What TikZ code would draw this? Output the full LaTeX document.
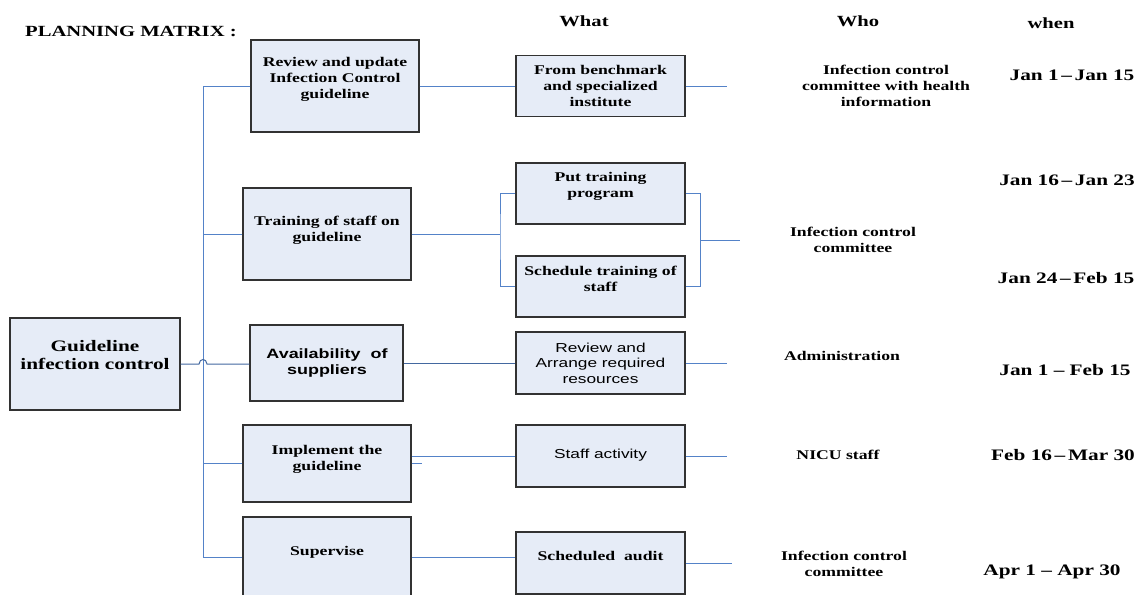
\documentclass[tikz,border=0pt]{standalone}
\usepackage{fontspec}
\setmainfont{Liberation Serif}[FakeStretch=1.33]
\setsansfont{Liberation Sans}[FakeStretch=1.33]
\begin{document}
\begin{tikzpicture}[x=1pt,y=-1pt,
  box/.style={draw=boxline,line width=1.2pt,fill=boxfill,inner sep=0pt},
  serif/.style={font=\fontsize{13.3}{16}\selectfont\bfseries,align=center,inner sep=0pt},
  sans/.style={font=\sffamily\fontsize{13}{15.5}\selectfont,align=center,inner sep=0pt},
  sansb/.style={font=\sffamily\fontsize{13.5}{15.5}\selectfont\bfseries,align=center,inner sep=0pt},
  head/.style={font=\fontsize{15.5}{18}\selectfont\bfseries,inner sep=0pt},
  date/.style={font=\fontsize{16}{18}\selectfont\bfseries,inner sep=0pt},
  link/.style={draw=linkblue,line width=1pt}]
\definecolor{boxfill}{RGB}{230,236,247}
\definecolor{boxline}{RGB}{50,50,50}
\definecolor{linkblue}{RGB}{84,130,200}
\clip (0,0) rectangle (1139,594);
\fill[white] (0,0) rectangle (1139,594);

% headings
\node[head,anchor=west] (title) at (25,31) {PLANNING MATRIX :};
\node[head] (hwhat) at (584,21) {What};
\node[head] (hwho) at (858,21) {Who};
\node[head] (hwhen) at (1051,23) {when};

% root box
\node[box,minimum width=170,minimum height=92] (g) at (95,364) {};
\node[serif,font=\fontsize{16}{18}\selectfont\bfseries] (gt) at (95,355) {Guideline\\infection control};

% second column
\node[box,minimum width=168,minimum height=92] (r1) at (335,86) {};
\node[serif] (r1t) at (335,79) {Review and update\\Infection Control\\guideline};
\node[box,minimum width=168,minimum height=92] (r2) at (327,234) {};
\node[serif] (r2t) at (327,230) {Training of staff on\\guideline};
\node[box,minimum width=153,minimum height=76] (r3) at (326.5,363) {};
\node[sansb] (r3t) at (327,363) {Availability\ \ of\\suppliers};
\node[box,minimum width=168,minimum height=77] (r4) at (327,463.5) {};
\node[serif] (r4t) at (327,459) {Implement the\\guideline};
\node[box,minimum width=168,minimum height=82] (r5) at (327,558) {};
\node[serif] (r5t) at (327,552) {Supervise};

% third column
\node[box,minimum width=169,minimum height=61] (w1) at (600.5,86) {};
\node[serif] (w1t) at (600.5,86) {From benchmark\\and specialized\\institute};
\node[box,minimum width=169,minimum height=61] (w2a) at (600.5,193.5) {};
\node[serif] (w2at) at (600.5,186) {Put training\\program};
\node[box,minimum width=169,minimum height=61] (w2b) at (600.5,286.5) {};
\node[serif] (w2bt) at (600.5,279) {Schedule training of\\staff};
\node[box,minimum width=169,minimum height=62] (w3) at (600.5,363) {};
\node[sans] (w3t) at (600.5,363) {Review and\\Arrange required\\resources};
\node[box,minimum width=169,minimum height=62] (w4) at (600.5,456) {};
\node[sans] (w4t) at (600.5,455) {Staff activity};
\node[box,minimum width=169,minimum height=62] (w5) at (600.5,563) {};
\node[serif] (w5t) at (600.5,556) {Scheduled\ \ audit};

% who
\node[serif] (who1) at (886,86) {Infection control\\committee with health\\information};
\node[serif] (who2) at (853,240) {Infection control\\committee};
\node[serif] (who3) at (842,356) {Administration};
\node[serif] (who4) at (838,455) {NICU staff};
\node[serif] (who5) at (844,564) {Infection control\\committee};

% when
\node[date] (d1) at (1072,75) {Jan 1\,--\,Jan 15};
\node[date] (d2) at (1067,180) {Jan 16\,--\,Jan 23};
\node[date] (d3) at (1066,278) {Jan 24\,--\,Feb 15};
\node[date] (d4) at (1065,370) {Jan 1 -- Feb 15};
\node[date] (d5) at (1063,455) {Feb 16\,--\,Mar 30};
\node[date] (d6) at (1052,572) {Apr 1 -- Apr 30};

% trunk and branches
\coordinate (ttop) at (203,86);
\coordinate (tbot) at (203,557);
\draw[link] (r1.west) -- (ttop) -- (tbot) -- (r5.west |- tbot);
\draw[link] (r2.west) -- (r2.west -| ttop);
\draw[link] (r4.west) -- (r4.west -| ttop);
% root to supplies, hopping over the trunk
\coordinate (hopa) at (199,364);
\coordinate (hopb) at (207,364);
\draw[link,draw=linkblue!80!black] (g.east |- hopa) -- (hopa) .. controls (199.5,358) and (206.5,358) .. (hopb) -- (r3.west |- hopb);

% what links
\draw[link] (r1.east) -- (w1.west);
\coordinate (s1) at (727,86);
\draw[link] (w1.east) -- (s1);

\coordinate (fl) at (500,234);
\draw[link] (r2.east) -- (fl);
\draw[link] (w2a.west) -| (fl) |- (w2b.west);
\coordinate (fr) at (700,240);
\coordinate (s2) at (740,240);
\draw[link] (w2a.east) -| (fr) |- (w2b.east);
\draw[link] (fr) -- (s2);

\draw[link,draw=linkblue!80!black] (r3.east |- w3.west) -- (w3.west);
\coordinate (s3) at (727,363);
\draw[link] (w3.east) -- (s3);

\draw[link] (r4.east |- w4.west) -- (w4.west);
\draw[link] (r4.east) -- ++(10,0);
\coordinate (s4) at (727,456);
\draw[link] (w4.east) -- (s4);

\draw[link] (r5.east |- tbot) -- (w5.west |- tbot);
\coordinate (s5) at (732,563);
\draw[link] (w5.east) -- (s5);
\end{tikzpicture}
\end{document}
